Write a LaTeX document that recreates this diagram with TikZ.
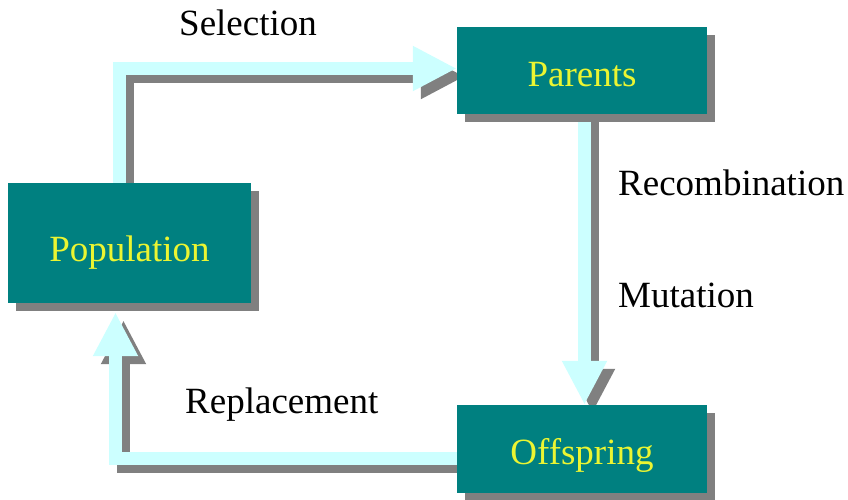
\documentclass[tikz,border=0pt]{standalone}
\usepackage{fontspec}
\setmainfont{Liberation Serif}
\usetikzlibrary{arrows.meta,shadows}
\definecolor{boxteal}{RGB}{0,128,128}
\definecolor{arrowcyan}{RGB}{204,255,255}
\definecolor{shadowgray}{RGB}{128,128,128}
\definecolor{labelyellow}{RGB}{235,245,50}
\pgfdeclarelayer{background}
\pgfsetlayers{background,main}
\begin{document}
\begin{tikzpicture}[x=1pt,y=-1pt,
  box/.style={rectangle, fill=boxteal, inner sep=0pt, text=labelyellow,
    font=\fontsize{37}{44}\selectfont, text depth=0pt,
    drop shadow={shadow xshift=8pt, shadow yshift=-8pt, fill=shadowgray, opacity=1}},
  lbl/.style={anchor=base west, inner sep=0pt, font=\fontsize{37}{44}\selectfont},
  flow/.style={line width=13pt, line join=miter, -{Triangle[length=44pt,width=42pt]}},
  flowfront/.style={flow, draw=arrowcyan},
  flowshadow/.style={flow, draw=shadowgray, transform canvas={shift={(8pt,-8pt)}}},
]
\useasboundingbox (0,0) rectangle (848,499);

\node[box, minimum width=243pt, minimum height=120pt, text height=37pt] (pop) at (129.5,243) {Population};
\node[box, minimum width=250pt, minimum height=87pt, text height=31pt] (par) at (582,70.5) {Parents};
\node[box, minimum width=250pt, minimum height=88pt, text height=30pt] (off) at (582,449) {Offspring};

\begin{pgfonlayer}{background}
  % shadows of the arrows
  \draw[flowshadow] ([xshift=-10pt]pop.north) |- ([yshift=2pt]par.west);
  \draw[flowshadow] ([xshift=2.5pt]par.south) -- ([xshift=2.5pt]off.north);
  \draw[flowshadow] ([yshift=-9.5pt]off.west) -| ([xshift=-14pt,yshift=-9pt]pop.south);
  % arrows
  \draw[flowfront] ([xshift=-10pt]pop.north) |- ([yshift=2pt]par.west);
  \draw[flowfront] ([xshift=2.5pt]par.south) -- ([xshift=2.5pt]off.north);
  \draw[flowfront] ([yshift=-9.5pt]off.west) -| ([xshift=-14pt,yshift=-9pt]pop.south);
\end{pgfonlayer}

\node[lbl] (sel) at (179,35) {Selection};
\node[lbl] (rec) at (618,195) {Recombination};
\node[lbl] (mut) at (618,307) {Mutation};
\node[lbl] (rep) at (185,413) {Replacement};
\end{tikzpicture}
\end{document}
